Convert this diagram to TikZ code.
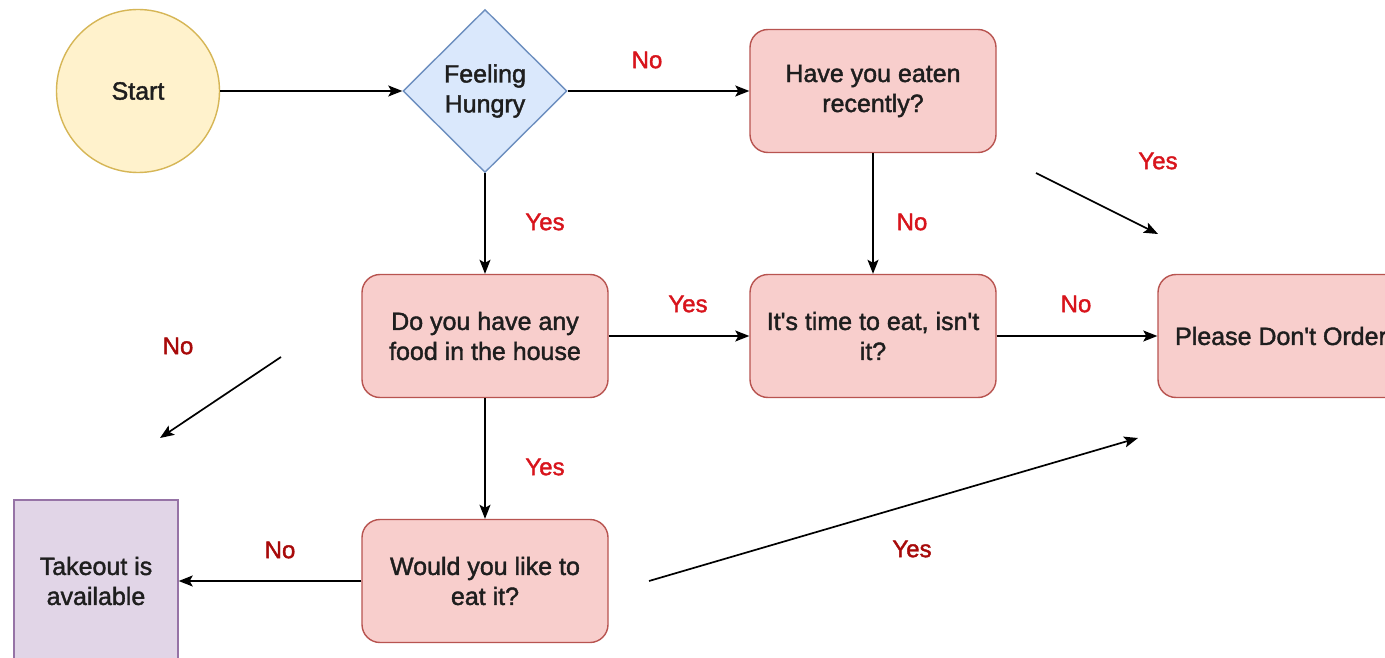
\documentclass[tikz,border=0pt]{standalone}
\usepackage{fontspec}
\setmainfont{Liberation Sans}[FakeBold=1.6]
\usetikzlibrary{shapes.geometric,arrows.meta}

\definecolor{yfill}{HTML}{FFF2CC}
\definecolor{yline}{HTML}{D6B656}
\definecolor{bfill}{HTML}{DAE8FC}
\definecolor{bline}{HTML}{6C8EBF}
\definecolor{rfill}{HTML}{F8CECC}
\definecolor{rline}{HTML}{B85450}
\definecolor{pfill}{HTML}{E1D5E7}
\definecolor{pline}{HTML}{9673A6}
\definecolor{txt}{HTML}{1E1E1E}
\definecolor{lblbright}{HTML}{D8141C}
\definecolor{lbldark}{HTML}{A80A0A}

\newcommand{\apos}{\textquotesingle}

\tikzset{
  base/.style={font=\fontsize{25}{30}\selectfont, text=txt, align=center, line width=1.4pt, inner sep=0pt},
  startnode/.style={base, circle, fill=yfill, draw=yline, minimum size=163pt},
  decision/.style={base, diamond, fill=bfill, draw=bline, minimum width=164pt, minimum height=163pt},
  procbox/.style={base, rectangle, rounded corners=18pt, fill=rfill, draw=rline, minimum width=246pt, minimum height=123pt},
  endbox/.style={base, rectangle, fill=pfill, draw=pline, minimum width=164pt, minimum height=162pt},
  lbl/.style={font=\fontsize{24}{28}\selectfont, text=lblbright, inner sep=0pt},
  lbldk/.style={lbl, text=lbldark},
  flow/.style={line width=1.7pt, draw=black, -{Stealth[length=14pt, width=11pt, inset=3pt]}}
}

\begin{document}
\begin{tikzpicture}[x=1pt, y=-1pt]
  \useasboundingbox (0,0) rectangle (1385,658);
  \clip (0,0) rectangle (1385,658);
  \fill[white] (0,0) rectangle (1385,658);

  % shapes
  \node[startnode] (start) at (138,91) {Start};
  \node[decision]  (hungry) at (485,91) {Feeling\\Hungry};
  \node[procbox]   (eaten) at (873,91) {Have you eaten\\recently?};
  \node[procbox]   (food) at (485,336) {Do you have any\\food in the house};
  \node[procbox]   (time) at (873,336) {It\apos s time to eat, isn\apos t\\it?};
  \node[procbox]   (please) at (1281,336) {Please Don\apos t Order};
  \node[procbox]   (would) at (485,581) {Would you like to\\eat it?};
  \node[endbox]    (takeout) at (96,581) {Takeout is\\available};

  % loose arrow ends
  \coordinate (yesA0) at (1036,173);
  \coordinate (yesA1) at (1158,234);
  \coordinate (noB0) at (281,357);
  \coordinate (noB1) at (160,438);
  \coordinate (yesC0) at (649,581);
  \coordinate (yesC1) at (1138,438);

  % connectors
  \draw[flow] (start.east) -- (hungry.west);
  \draw[flow] (hungry.east) -- (eaten.west);
  \draw[flow] (hungry.south) -- (food.north);
  \draw[flow] (eaten.south) -- (time.north);
  \draw[flow] (food.east) -- (time.west);
  \draw[flow] (time.east) -- (please.west);
  \draw[flow] (food.south) -- (would.north);
  \draw[flow] (would.west) -- (takeout.east);
  \draw[flow] (yesA0) -- (yesA1);
  \draw[flow] (noB0) -- (noB1);
  \draw[flow] (yesC0) -- (yesC1);

  % branch labels
  \node[lbl]   (l1) at (647,60)   {No};
  \node[lbl]   (l2) at (545,222)  {Yes};
  \node[lbl]   (l3) at (912,222)  {No};
  \node[lbl]   (l4) at (688,304)  {Yes};
  \node[lbl]   (l5) at (1076,304) {No};
  \node[lbl]   (l6) at (1158,161) {Yes};
  \node[lbldk] (l7) at (178,346)  {No};
  \node[lbl]   (l8) at (545,467)  {Yes};
  \node[lbldk] (l9) at (280,550)  {No};
  \node[lbldk] (l10) at (912,549) {Yes};
\end{tikzpicture}
\end{document}
